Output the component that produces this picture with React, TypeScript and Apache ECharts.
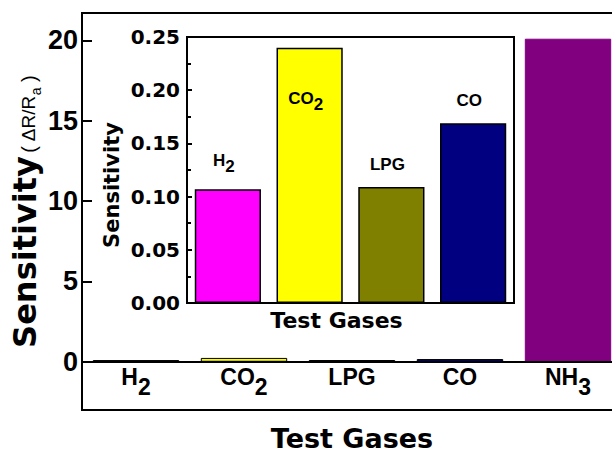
import React, { useEffect, useRef } from "react";
import * as echarts from "echarts";

const gases = ["H2", "CO2", "LPG", "CO", "NH3"];
const mainValues = [0.107, 0.24, 0.109, 0.169, 20.1];
const insetGases = ["H2", "CO2", "LPG", "CO"];
const insetValues = [0.107, 0.24, 0.109, 0.169];
const mainYTicks = [0, 5, 10, 15, 20];
const barColors = ["#FF00FF", "#FFFF00", "#808000", "#000080", "#800080"];

const richName = (name: string) => {
  const m = name.match(/^(\D+)(\d*)$/);
  if (!m) return name;
  return m[2] ? `{m|${m[1]}}{s|${m[2]}}` : `{m|${m[1]}}`;
};

export default function App() {
  const ref = useRef<HTMLDivElement>(null);
  useEffect(() => {
    if (!ref.current) return;
    const chart = echarts.init(ref.current, null, { renderer: "svg", width: 640, height: 455 });
    const option: any = {
      animation: false,
      backgroundColor: "#fff",
      grid: [
        { left: 82, top: 13, width: 540, height: 397, containLabel: false, outerBoundsMode: "none", show: true, borderColor: "#000", borderWidth: 2, backgroundColor: "transparent" },
        { left: 187, top: 37, width: 327, height: 266, containLabel: false, outerBoundsMode: "none", show: true, borderColor: "#000", borderWidth: 2, backgroundColor: "transparent" },
      ],
      xAxis: [
        {
          type: "category",
          gridIndex: 0,
          data: gases,
          position: "bottom",
          offset: -48,
          z: 5,
          axisLine: { onZero: false, lineStyle: { color: "#000", width: 2 } },
          axisTick: { inside: true, alignWithLabel: true, length: 9, lineStyle: { color: "#000", width: 2 } },
          axisLabel: {
            margin: 3,
            formatter: (v: string) => richName(v),
            rich: {
              m: { fontFamily: "Liberation Sans", fontWeight: "bold", fontSize: 23, color: "#000", verticalAlign: "top" },
              s: { fontFamily: "Liberation Sans", fontWeight: "bold", fontSize: 23, color: "#000", verticalAlign: "top", padding: [10, 0, 0, 0] },
            },
          },
          name: "Test Gases",
          nameLocation: "middle",
          nameGap: 63,
          nameTextStyle: { fontFamily: "DejaVu Sans", fontWeight: "bold", fontSize: 27, color: "#000" },
        },
        {
          type: "category",
          gridIndex: 1,
          data: insetGases,
          axisLine: { lineStyle: { color: "#000", width: 2 } },
          axisTick: { show: false },
          axisLabel: { show: false },
          name: "Test Gases",
          nameLocation: "middle",
          nameGap: 6,
          nameTextStyle: { fontFamily: "DejaVu Sans", fontWeight: "bold", fontSize: 22, color: "#000", padding: [0, 28, 0, 0] },
        },
      ],
      yAxis: [
        {
          type: "value",
          gridIndex: 0,
          min: -3,
          max: 21.7,
          axisLine: { show: false },
          splitLine: { show: false },
          axisTick: { show: true, inside: true, length: 10, customValues: mainYTicks, lineStyle: { color: "#000", width: 2 } },
          axisLabel: { customValues: mainYTicks, margin: 4, fontFamily: "Liberation Sans", fontWeight: "bold", fontSize: 27, color: "#000" },
        },
        {
          type: "value",
          gridIndex: 1,
          min: 0,
          max: 0.25,
          interval: 0.05,
          axisLine: { show: true, lineStyle: { color: "#000", width: 2 } },
          splitLine: { show: false },
          axisTick: { show: true, inside: true, length: 5, lineStyle: { color: "#000", width: 2 } },
          minorTick: { show: true, splitNumber: 2, length: 4, lineStyle: { color: "#000", width: 2 } },
          axisLabel: { margin: 7, formatter: (v: number) => v.toFixed(2), fontFamily: "DejaVu Sans", fontWeight: "bold", fontSize: 20, color: "#000" },
        },
      ],
      graphic: [
        {
          type: "text",
          x: 9,
          y: 252,
          rotation: Math.PI / 2,
          style: { text: "Sensitivity", fontFamily: "DejaVu Sans", fontWeight: "bold", fontSize: 32, fill: "#000", align: "center", verticalAlign: "top" },
        },
        {
          type: "text",
          x: 19,
          y: 114,
          rotation: Math.PI / 2,
          style: {
            text: "{n|(}{g| ΔR/R}{s|a}{n| )}",
            align: "center",
            verticalAlign: "top",
            rich: {
              n: { fontFamily: "Liberation Sans", fontSize: 20, fill: "#000", verticalAlign: "top" },
              g: { fontFamily: "Liberation Sans", fontSize: 19, fill: "#000", verticalAlign: "top" },
              s: { fontFamily: "Liberation Sans", fontSize: 14, fill: "#000", verticalAlign: "top", padding: [10, 0, 0, 0] },
            },
          },
        },
        {
          type: "text",
          x: 112,
          y: 185,
          rotation: Math.PI / 2,
          style: { text: "Sensitivity", fontFamily: "DejaVu Sans", fontWeight: "bold", fontSize: 21, fill: "#000", align: "center", verticalAlign: "middle" },
        },
      ],
      series: [
        {
          type: "bar",
          xAxisIndex: 0,
          yAxisIndex: 0,
          barCategoryGap: "20%",
          data: mainValues.map((v, i) => ({
            value: v,
            itemStyle: { color: barColors[i], borderColor: i === 4 ? barColors[i] : "#000" },
          })),
          itemStyle: { borderWidth: 1 },
        },
        {
          type: "bar",
          xAxisIndex: 1,
          yAxisIndex: 1,
          barCategoryGap: "19%",
          data: insetValues.map((v, i) => ({
            value: v,
            itemStyle: { color: barColors[i] },
            label: i === 1 ? { position: "insideTop", distance: 42 } : { position: "top", distance: 14 },
          })),
          itemStyle: { borderColor: "#000", borderWidth: 1.5 },
          label: {
            show: true,
            offset: [-4, 0],
            formatter: (p: any) => richName(p.name),
            rich: {
              m: { fontFamily: "Liberation Sans", fontWeight: "bold", fontSize: 17, color: "#000", verticalAlign: "top" },
              s: { fontFamily: "Liberation Sans", fontWeight: "bold", fontSize: 17, color: "#000", verticalAlign: "top", padding: [6, 0, 0, 0] },
            },
          },
        },
      ],
    };
    chart.setOption(option);
    return () => chart.dispose();
  }, []);
  return (
    <div style={{ position: "fixed", left: 0, top: 0, width: 612, height: 455, overflow: "hidden", background: "#fff" }}>
      <div ref={ref} style={{ width: 640, height: 455 }} />
    </div>
  );
}
